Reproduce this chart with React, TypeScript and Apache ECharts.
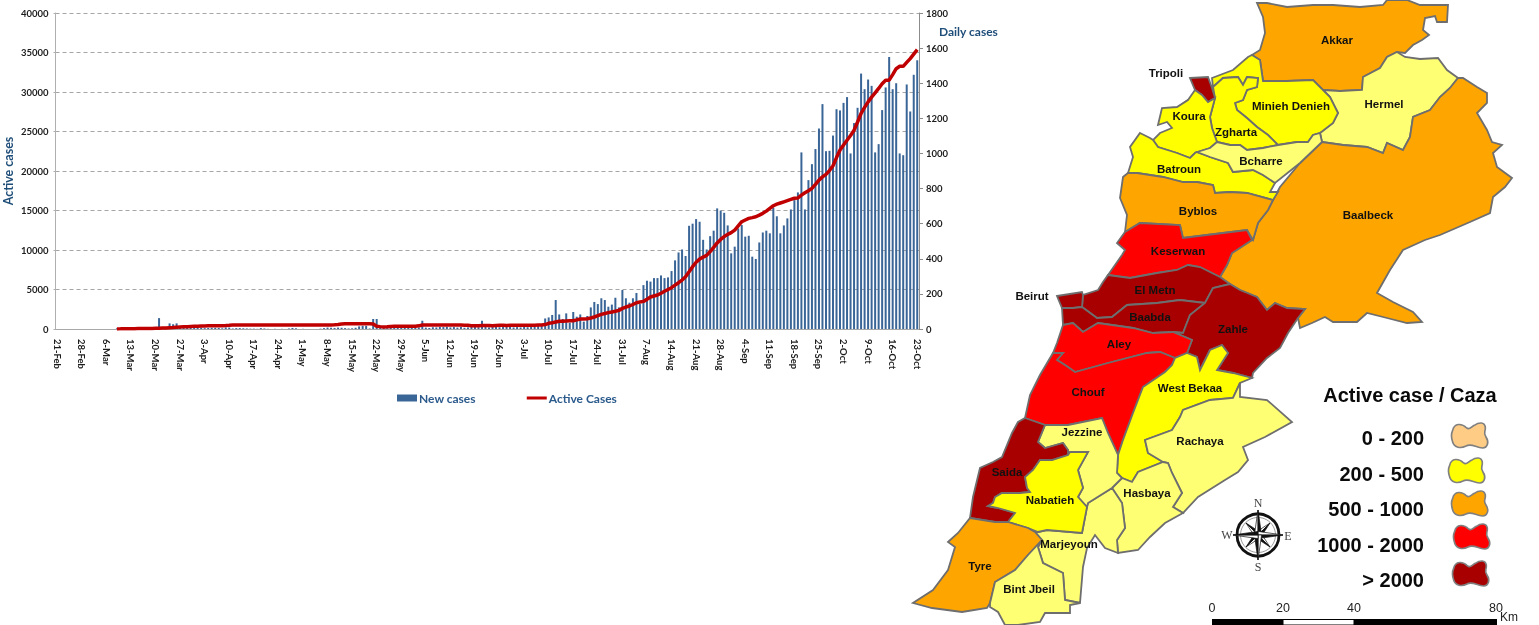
import React, { useEffect, useRef } from "react";
import * as echarts from "echarts";

// ---------- chart data ----------
const monthNames = ["Feb", "Mar", "Apr", "May", "Jun", "Jul", "Aug", "Sep", "Oct"];
const monthFirstDay = [21, 1, 1, 1, 1, 1, 1, 1, 1];
const monthLastDay = [29, 31, 30, 31, 30, 31, 31, 30, 23];

const newFeb = [0, 0, 0, 0, 0, 0, 0, 0, 0];
const newMar = [0, 0, 0, 0, 0, 0, 0, 0, 4, 0, 2, 9, 5, 6, 7, 5, 2, 3, 6, 8, 62, 9, 6, 32, 27, 32, 16, 19, 12, 9, 7];
const newApr = [8, 8, 5, 6, 7, 7, 6, 4, 9, 8, 3, 5, 5, 4, 3, 2, 2, 1, 5, 3, 1, 0, 1, 0, 1, 0, 3, 6, 4, 0];
const newMay = [1, 0, 0, 0, 0, 2, 5, 8, 7, 6, 8, 7, 5, 3, 4, 7, 15, 18, 18, 3, 57, 57, 10, 8, 5, 9, 12, 8, 10, 9, 6];
const newJun = [10, 12, 9, 47, 8, 6, 10, 9, 12, 11, 13, 9, 11, 8, 12, 7, 9, 11, 13, 10, 47, 12, 9, 11, 14, 10, 13, 20, 12, 9];
const newJul = [11, 9, 12, 10, 13, 14, 18, 25, 60, 66, 80, 165, 83, 57, 89, 36, 97, 70, 83, 42, 74, 123, 154, 142, 175, 165, 127, 139, 178, 123, 222];
const newAug = [175, 150, 175, 205, 142, 250, 275, 270, 290, 290, 305, 290, 294, 330, 391, 436, 453, 416, 588, 600, 626, 611, 508, 453, 529, 560, 687, 674, 662, 590, 431];
const newSep = [469, 573, 592, 526, 531, 412, 399, 493, 550, 560, 545, 690, 642, 545, 590, 630, 681, 734, 778, 1006, 681, 848, 939, 1025, 1142, 1281, 1013, 1015, 1102, 1252];
const newOct = [1245, 1288, 1321, 1000, 1173, 1260, 1455, 1366, 1421, 1385, 1006, 1053, 1247, 1376, 1549, 1366, 1400, 1000, 990, 1393, 1239, 1448, 1531];

const activeFeb = [null, null, null, null, null, null, null, null, null];
const activeMar = [null, null, null, null, null, null, null, null, 15, 18, 22, 28, 32, 40, 50, 60, 62, 70, 75, 80, 85, 120, 140, 170, 190, 230, 260, 280, 300, 320, 340];
const activeApr = [360, 380, 390, 400, 410, 400, 410, 420, 430, 460, 500, 510, 510, 500, 510, 510, 500, 510, 520, 510, 500, 510, 500, 510, 510, 500, 510, 500, 510, 510];
const activeMay = [500, 510, 500, 510, 510, 500, 510, 520, 520, 530, 560, 620, 650, 660, 650, 660, 650, 660, 650, 650, 620, 350, 300, 260, 280, 330, 350, 340, 350, 340, 340];
const activeJun = [340, 350, 400, 510, 520, 510, 500, 510, 500, 510, 500, 510, 510, 500, 500, 490, 470, 400, 420, 420, 430, 430, 450, 410, 450, 470, 480, 450, 460, 470];
const activeJul = [460, 470, 470, 460, 470, 480, 500, 520, 560, 720, 800, 890, 970, 990, 1010, 1030, 1050, 1150, 1270, 1280, 1300, 1400, 1520, 1680, 1850, 1960, 2070, 2150, 2240, 2360, 2610];
const activeAug = [2780, 2910, 3100, 3330, 3420, 3500, 3750, 4050, 4180, 4300, 4520, 4770, 5000, 5230, 5550, 5860, 6200, 6620, 7250, 7890, 8450, 8850, 9100, 9320, 9800, 10330, 10900, 11340, 11700, 11980, 12200];
const activeSep = [12520, 13050, 13580, 13800, 14000, 14100, 14210, 14420, 14640, 14920, 15270, 15600, 15800, 15950, 16100, 16250, 16400, 16550, 16580, 16950, 17240, 17500, 17800, 18300, 18850, 19250, 19570, 20050, 20670, 21700];
const activeOct = [22650, 23300, 23900, 24500, 25160, 26200, 27280, 28050, 28750, 29350, 29900, 30450, 31050, 31500, 31500, 32200, 32950, 33250, 33250, 33750, 34230, 34800, 35360];

const categories: string[] = [];
monthNames.forEach((m, k) => {
  for (let d = monthFirstDay[k]; d <= monthLastDay[k]; d++) categories.push(`${d}-${m}`);
});
const newCases = [...newFeb, ...newMar, ...newApr, ...newMay, ...newJun, ...newJul, ...newAug, ...newSep, ...newOct];
const activeCases = [...activeFeb, ...activeMar, ...activeApr, ...activeMay, ...activeJun, ...activeJul, ...activeAug, ...activeSep, ...activeOct];

// ---------- map data ----------
const classLabels = ["0 - 200", "200 - 500", "500 - 1000", "1000 - 2000", "> 2000"];
const classColors = ["#FFCC85", "#FFFF00", "#FFA500", "#FF0000", "#A80000"];
const LIGHT = "#FFFF73";

const regionClass: Record<string, number | string> = {
  Akkar: 2, Tripoli: 4, "Minieh Denieh": 1, Hermel: "light", Koura: 1, Zgharta: 1, Bcharre: "light", Batroun: 1,
  Byblos: 2, Baalbeck: 2, Keserwan: 3, Beirut: 4, "El Metn": 4, Baabda: 4, Zahle: 4, Aley: 3, "West Bekaa": 1,
  Chouf: 3, Jezzine: "light", Rachaya: "light", Saida: 4, Nabatieh: 1, Hasbaya: "light", Marjeyoun: "light",
  Tyre: 2, "Bint Jbeil": "light",
};

const labelAnchors: Record<string, number[]> = {
  Akkar: [1337, 40], Tripoli: [1166, 73], "Minieh Denieh": [1291, 106], Hermel: [1384, 104], Koura: [1189, 116],
  Zgharta: [1236, 132], Bcharre: [1261, 161], Batroun: [1179, 169], Byblos: [1198, 211], Baalbeck: [1368, 215],
  Keserwan: [1178, 251], Beirut: [1032, 296], "El Metn": [1155, 290], Baabda: [1150, 317], Zahle: [1233, 329],
  Aley: [1119, 344], "West Bekaa": [1190, 388], Chouf: [1088, 392], Jezzine: [1082, 432], Rachaya: [1200, 441],
  Saida: [1007, 472], Nabatieh: [1050, 500], Hasbaya: [1147, 493], Marjeyoun: [1069, 544], Tyre: [980, 566],
  "Bint Jbeil": [1029, 589],
};

const regionRings: Record<string, number[][][]> = {
  Akkar: [[[1257,3],[1267,3],[1287,7],[1313,5],[1333,5],[1360,7],[1383,5],[1387,0],[1407,0],[1420,5],[1448,5],[1447,22],[1437,22],[1435,16],[1425,18],[1423,30],[1429,35],[1422,40],[1413,45],[1405,53],[1397,52],[1387,57],[1380,68],[1363,77],[1362,90],[1340,91],[1323,90],[1313,80],[1287,81],[1263,81],[1260,60],[1252,55],[1260,50],[1265,33],[1263,17]]],
  Hermel: [[[1397,52],[1405,57],[1420,59],[1438,58],[1447,70],[1458,78],[1450,88],[1440,97],[1430,110],[1413,117],[1410,137],[1403,150],[1387,143],[1383,153],[1367,147],[1343,145],[1322,142],[1320,133],[1333,123],[1338,113],[1330,97],[1323,90],[1340,91],[1362,90],[1363,77],[1380,68],[1387,57]]],
  Baalbeck: [[[1458,78],[1463,78],[1477,87],[1487,93],[1487,103],[1477,113],[1487,130],[1492,142],[1502,145],[1493,153],[1497,167],[1512,178],[1505,187],[1493,197],[1490,213],[1470,222],[1440,235],[1425,240],[1403,250],[1390,270],[1377,293],[1393,302],[1413,312],[1422,322],[1407,323],[1387,318],[1367,313],[1357,322],[1333,322],[1325,317],[1312,323],[1300,328],[1298,318],[1305,309],[1287,308],[1275,303],[1267,310],[1257,297],[1240,290],[1230,284],[1220,277],[1227,265],[1232,253],[1252,240],[1253,240],[1258,223],[1268,210],[1273,200],[1280,187],[1300,163],[1322,142],[1343,145],[1367,147],[1383,153],[1387,143],[1403,150],[1410,137],[1413,117],[1430,110],[1440,97],[1450,88]]],
  "Minieh Denieh": [[[1212,78],[1233,70],[1248,57],[1252,55],[1260,60],[1263,81],[1287,81],[1313,80],[1323,90],[1330,97],[1338,113],[1333,123],[1320,133],[1313,135],[1308,142],[1297,142],[1278,145],[1268,135],[1257,127],[1247,118],[1237,110],[1235,103],[1243,100],[1247,90],[1257,87],[1258,78],[1247,77],[1243,85],[1238,77],[1223,78],[1213,87]]],
  Zgharta: [[[1213,87],[1223,78],[1238,77],[1243,85],[1247,77],[1258,78],[1257,87],[1247,90],[1243,100],[1235,103],[1237,110],[1247,118],[1257,127],[1268,135],[1278,145],[1263,148],[1247,150],[1240,145],[1230,145],[1217,142],[1212,128],[1210,117],[1215,98]]],
  Tripoli: [[[1190,78],[1208,77],[1212,88],[1215,98],[1208,102],[1202,95],[1195,90]], [[1178,107],[1188,100],[1189,101],[1179,108]]],
  Koura: [[[1195,90],[1202,95],[1208,102],[1215,98],[1210,117],[1212,128],[1217,142],[1210,148],[1195,153],[1190,158],[1177,153],[1158,147],[1153,140],[1160,133],[1172,128],[1167,122],[1158,125],[1162,108],[1177,107],[1188,100]]],
  Batroun: [[[1140,133],[1150,138],[1153,140],[1158,147],[1177,153],[1190,158],[1195,153],[1197,152],[1210,157],[1228,163],[1233,172],[1253,170],[1263,175],[1275,183],[1270,192],[1278,192],[1273,200],[1247,193],[1230,192],[1215,193],[1213,185],[1197,182],[1183,182],[1163,177],[1137,173],[1128,173],[1133,157],[1130,147]]],
  Bcharre: [[[1217,142],[1230,145],[1240,145],[1247,150],[1263,148],[1278,145],[1297,142],[1308,142],[1313,135],[1320,133],[1322,142],[1300,163],[1275,183],[1263,175],[1253,170],[1233,172],[1228,163],[1210,157],[1197,152],[1210,148]]],
  Byblos: [[[1123,177],[1128,173],[1137,173],[1163,177],[1183,182],[1197,182],[1213,185],[1215,193],[1230,192],[1247,193],[1273,200],[1268,210],[1258,223],[1253,240],[1247,230],[1223,233],[1183,238],[1180,225],[1140,223],[1125,232],[1127,215],[1120,198]]],
  Keserwan: [[[1125,232],[1140,223],[1180,225],[1183,238],[1223,233],[1247,230],[1252,240],[1232,253],[1227,265],[1220,277],[1200,267],[1188,265],[1177,270],[1157,273],[1130,278],[1108,275],[1122,255],[1125,250],[1117,243]]],
  "El Metn": [[[1108,275],[1130,278],[1157,273],[1177,270],[1188,265],[1200,267],[1220,277],[1230,284],[1213,288],[1205,303],[1180,300],[1157,303],[1127,305],[1112,317],[1097,318],[1082,307],[1083,295],[1098,290],[1103,282]]],
  Beirut: [[[1057,296],[1082,292],[1083,295],[1082,307],[1073,308],[1062,308]]],
  Baabda: [[[1062,308],[1073,308],[1082,307],[1097,318],[1112,317],[1127,305],[1157,303],[1180,300],[1205,303],[1190,315],[1183,333],[1173,332],[1153,333],[1133,328],[1098,323],[1083,332],[1073,323],[1063,325]]],
  Zahle: [[[1230,284],[1240,290],[1257,297],[1267,310],[1275,303],[1287,308],[1305,309],[1298,318],[1288,333],[1280,348],[1267,358],[1253,373],[1252,378],[1233,373],[1217,370],[1228,353],[1222,345],[1210,350],[1200,370],[1197,357],[1187,353],[1192,340],[1173,332],[1183,333],[1190,315],[1205,303],[1213,288]]],
  Aley: [[[1063,325],[1073,323],[1083,332],[1098,323],[1133,328],[1153,333],[1173,332],[1192,340],[1187,353],[1175,358],[1160,352],[1147,353],[1108,363],[1075,372],[1065,365],[1057,360],[1063,353],[1053,353],[1057,343]]],
  Chouf: [[[1053,353],[1063,353],[1057,360],[1065,365],[1075,372],[1108,363],[1147,353],[1160,352],[1175,358],[1172,365],[1165,372],[1143,387],[1133,413],[1123,440],[1118,455],[1108,433],[1102,418],[1068,425],[1045,425],[1025,418],[1030,395],[1040,375]]],
  "West Bekaa": [[[1200,370],[1210,350],[1222,345],[1228,353],[1217,370],[1233,373],[1252,378],[1240,383],[1233,398],[1210,400],[1183,410],[1180,417],[1172,430],[1145,440],[1148,453],[1163,462],[1138,472],[1132,482],[1122,478],[1117,473],[1118,455],[1123,440],[1133,413],[1143,387],[1165,372],[1172,365],[1175,358],[1187,353],[1197,357]]],
  Rachaya: [[[1240,383],[1240,397],[1267,400],[1292,422],[1265,437],[1243,447],[1248,460],[1238,472],[1225,480],[1198,497],[1183,513],[1173,507],[1182,493],[1172,473],[1168,463],[1163,462],[1148,453],[1145,440],[1172,430],[1180,417],[1183,410],[1210,400],[1233,398]]],
  Hasbaya: [[[1163,462],[1168,463],[1172,473],[1182,493],[1173,507],[1183,513],[1165,523],[1150,537],[1138,550],[1118,553],[1117,540],[1125,528],[1122,503],[1112,488],[1122,478],[1132,482],[1138,472]]],
  Marjeyoun: [[[1038,532],[1047,530],[1082,533],[1087,507],[1088,503],[1112,488],[1122,503],[1125,528],[1117,540],[1118,553],[1105,548],[1095,535],[1087,548],[1083,567],[1080,603],[1065,600],[1063,573],[1043,563],[1038,547],[1042,540],[1035,532]]],
  Jezzine: [[[1045,425],[1068,425],[1102,418],[1108,433],[1118,455],[1117,473],[1122,478],[1112,488],[1088,503],[1087,507],[1078,497],[1083,488],[1078,470],[1088,452],[1070,452],[1068,455],[1068,450],[1063,443],[1045,448],[1038,442]]],
  Saida: [[[1025,418],[1045,425],[1038,442],[1045,448],[1063,443],[1068,450],[1068,455],[1052,460],[1040,460],[1033,470],[1025,477],[1027,488],[1030,492],[1020,493],[1002,493],[995,497],[993,503],[988,506],[998,508],[1015,513],[1008,522],[995,522],[970,518],[973,497],[980,468],[993,462],[1002,457],[1012,433],[1018,422]]],
  Nabatieh: [[[1068,455],[1070,452],[1088,452],[1078,470],[1083,488],[1078,497],[1087,507],[1082,533],[1047,530],[1038,532],[1028,528],[1008,522],[1015,513],[998,508],[988,506],[993,503],[995,497],[1002,493],[1020,493],[1030,492],[1027,488],[1025,477],[1033,470],[1040,460],[1052,460]]],
  Tyre: [[[970,518],[995,522],[1008,522],[1028,528],[1035,532],[1042,540],[1028,555],[1015,570],[995,582],[990,603],[987,608],[962,612],[932,608],[913,603],[933,590],[948,570],[955,547],[948,542],[958,533]]],
  "Bint Jbeil": [[[1042,540],[1038,547],[1043,563],[1063,573],[1065,600],[1080,603],[1070,605],[1070,613],[1045,613],[1040,622],[1018,625],[1005,625],[998,612],[990,607],[990,603],[995,582],[1015,570],[1028,555]]],
};

// ---------- decoration ----------
const BLOB = "M5,25 C10,3,32,3,47,18 C55,25,60,15,70,10 C85,0,100,0,103,15 C105,30,95,30,105,45 C115,60,110,78,95,78 C75,78,62,62,45,72 C30,80,10,78,5,60 C0,45,0,35,5,25 Z";
echarts.graphic.registerShape("legendBlob", echarts.graphic.extendPath(BLOB, {}) as any);

const blobPos = [[1451, 422], [1448, 457], [1451, 490], [1453, 523], [1452, 560]];
const labelY = [438, 474, 509, 545, 580];

function compass(cx: number, cy: number): any[] {
  const out: any[] = [
    { type: "circle", shape: { cx, cy, r: 21 }, style: { fill: "#fff", stroke: "#111", lineWidth: 2.8 } },
    { type: "circle", shape: { cx, cy, r: 17.5 }, style: { fill: "none", stroke: "#555", lineWidth: 0.6 } },
  ];
  const rays: number[][] = [
    [45, 17], [135, 17], [225, 17], [315, 17],
    [0, 25], [90, 25], [180, 25], [270, 25],
  ];
  rays.forEach(([deg, len]) => {
    const a = (deg * Math.PI) / 180;
    const tip = [cx + Math.sin(a) * len, cy - Math.cos(a) * len];
    const w = 3.6;
    const l = [cx + Math.sin(a - Math.PI / 2) * w, cy - Math.cos(a - Math.PI / 2) * w];
    const r = [cx + Math.sin(a + Math.PI / 2) * w, cy - Math.cos(a + Math.PI / 2) * w];
    out.push({ type: "polygon", shape: { points: [tip, [cx, cy], l] }, style: { fill: "#fff", stroke: "#111", lineWidth: 0.7 } });
    out.push({ type: "polygon", shape: { points: [tip, [cx, cy], r] }, style: { fill: "#111", stroke: "#111", lineWidth: 0.7 } });
  });
  const letters: [string, number, number][] = [["N", cx, cy - 32], ["S", cx, cy + 32], ["W", cx - 31, cy], ["E", cx + 30, cy + 1]];
  letters.forEach(([t, x, y]) =>
    out.push({ type: "text", x, y, style: { text: t, fill: "#444", font: "12px 'Liberation Serif'", textAlign: "center", textVerticalAlign: "middle" } })
  );
  return out;
}

const TICK_FONT = { fontFamily: "Lato", fontWeight: "bold" as const, fontSize: 9.5, color: "#1c1c1c" };
const plainNumber = (v: number) => String(v);

export default function App() {
  const ref = useRef<HTMLDivElement>(null);
  useEffect(() => {
    const chart = echarts.init(ref.current!, undefined, { renderer: "svg" });

    const features = Object.keys(regionRings).map((name) => ({
      type: "Feature",
      properties: { name, cp: labelAnchors[name] },
      geometry: { type: "MultiPolygon", coordinates: regionRings[name].map((r) => [r]) },
    }));
    echarts.registerMap("lebanon", { type: "FeatureCollection", features } as any);

    const mapData = Object.keys(regionRings).map((name) => {
      const c = regionClass[name];
      return { name, value: 1, itemStyle: { areaColor: c === "light" ? LIGHT : classColors[c as number] } };
    });

    const graphics: any[] = [
      { type: "text", x: 939, y: 31, style: { text: "Daily cases", fill: "#1F4E79", font: "bold 12px Lato", textVerticalAlign: "middle" } },
      { type: "text", x: 1410, y: 395, style: { text: "Active case / Caza", fill: "#0a0a0a", font: "bold 20px 'Liberation Sans'", textAlign: "center", textVerticalAlign: "middle" } },
      ...classLabels.map((t, i) => ({
        type: "text", x: 1424, y: labelY[i],
        style: { text: t, fill: "#0a0a0a", font: "bold 20px 'Liberation Sans'", textAlign: "right", textVerticalAlign: "middle" },
      })),
      ...classColors.map((c, i) => ({
        type: "legendBlob", x: blobPos[i][0], y: blobPos[i][1], scaleX: 1 / 3, scaleY: 1 / 3,
        style: { fill: c, stroke: "#808080", lineWidth: 5 },
      })),
      ...compass(1258, 535),
      { type: "rect", shape: { x: 1212, y: 619, width: 71, height: 6 }, style: { fill: "#000" } },
      { type: "rect", shape: { x: 1283, y: 619.5, width: 71, height: 5.5 }, style: { fill: "#fff", stroke: "#000", lineWidth: 1 } },
      { type: "rect", shape: { x: 1354, y: 619, width: 143, height: 6 }, style: { fill: "#000" } },
      ...([["0", 1212], ["20", 1283], ["40", 1354], ["80", 1496]] as [string, number][]).map(([t, x]) => ({
        type: "text", x, y: 608, style: { text: t, fill: "#222", font: "12.5px 'Liberation Sans'", textAlign: "center", textVerticalAlign: "middle" },
      })),
      { type: "text", x: 1500, y: 617, style: { text: "Km", fill: "#222", font: "12px 'Liberation Sans'", textVerticalAlign: "middle" } },
    ];

    chart.setOption({
      animation: false,
      grid: { left: 55.5, top: 13, width: 863.5, height: 316, containLabel: false, outerBoundsMode: "none" },
      legend: {
        left: 397, top: 392, padding: 0, itemWidth: 20, itemHeight: 7, itemGap: 51, selectedMode: false,
        data: [
          { name: "New cases", icon: "rect" },
          { name: "Active Cases", icon: "path://M0,0H20V3H0Z" },
        ],
        textStyle: { fontFamily: "Lato", fontWeight: "bold", fontSize: 12, color: "#2B5A8C", padding: [0, 0, 0, -3] },
      },
      xAxis: {
        type: "category", data: categories, boundaryGap: true,
        axisLine: { lineStyle: { color: "#A8A8A8", width: 1 } },
        axisTick: { show: false },
        axisLabel: { ...TICK_FONT, interval: 6, rotate: -90, margin: 10 },
      },
      yAxis: [
        {
          type: "value", min: 0, max: 40000, interval: 5000,
          name: "Active cases", nameLocation: "middle", nameGap: 41, nameRotate: 90, nameMoveOverlap: false,
          nameTextStyle: { fontFamily: "Lato", fontWeight: "bold", fontSize: 12.5, color: "#1F4E79" },
          axisLine: { show: true, lineStyle: { color: "#B0B0B0", width: 1 } },
          axisTick: { show: true, length: 2, lineStyle: { color: "#B0B0B0" } },
          axisLabel: { ...TICK_FONT, margin: 7, formatter: plainNumber },
          splitLine: { show: true, lineStyle: { color: "#A6A6A6", type: [4, 3], width: 1 } },
        },
        {
          type: "value", min: 0, max: 1800, interval: 200, position: "right",
          axisLine: { show: true, lineStyle: { color: "#8C8C8C", width: 1 } },
          axisTick: { show: true, length: 4, lineStyle: { color: "#8C8C8C" } },
          axisLabel: { ...TICK_FONT, margin: 7, formatter: plainNumber },
          splitLine: { show: false },
        },
      ],
      series: [
        { name: "New cases", type: "bar", yAxisIndex: 1, data: newCases, barWidth: 2, itemStyle: { color: "#3A6597" }, silent: true, z: 2 },
        {
          name: "Active Cases", type: "line", yAxisIndex: 0, data: activeCases, showSymbol: false, symbol: "none",
          lineStyle: { color: "#C00000", width: 3.5 }, itemStyle: { color: "#C00000" }, silent: true, z: 3,
        },
        {
          name: "Caza", type: "map", map: "lebanon", showLegendSymbol: false,
          projection: { project: (p: number[]) => [p[0], p[1]], unproject: (p: number[]) => [p[0], p[1]] },
          boundingCoords: [[0, 0], [1539, 625]],
          left: 0, top: 0, width: 1539, height: 625, roam: false, silent: true, selectedMode: false,
          data: mapData,
          itemStyle: { borderColor: "#6E6E6E", borderWidth: 1.8, areaColor: "#fff" },
          label: { show: true, position: "inside", formatter: "{b}", fontFamily: "'Liberation Sans'", fontWeight: "bold", fontSize: 11.5, color: "#111" },
          emphasis: { disabled: true },
        },
      ],
      graphic: graphics,
    });
    return () => chart.dispose();
  }, []);
  return <div ref={ref} style={{ position: "fixed", left: 0, top: 0, width: 1539, height: 625 }} />;
}
